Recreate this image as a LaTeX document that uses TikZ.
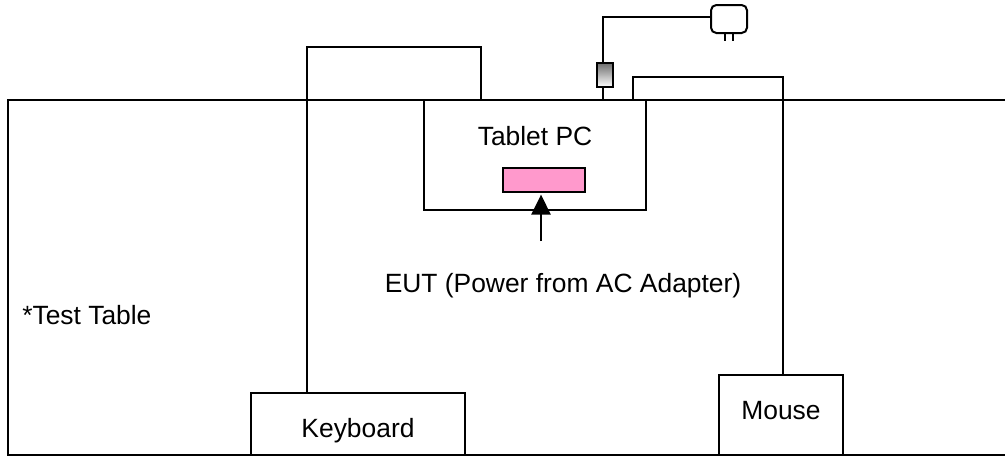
\documentclass[tikz,border=0pt]{standalone}
\usepackage{fontspec}
\setmainfont{Liberation Sans}
\usepackage{xcolor}
\usetikzlibrary{positioning, calc, arrows.meta}
\definecolor{eutpink}{RGB}{255, 153, 204}
\definecolor{plugdark}{RGB}{110, 110, 110}
\tikzset{
    boxnode/.style={
        draw, line width=1.5pt, fill=white, inner sep=0pt, outer sep=0pt
    },
    labelnode/.style={
        inner sep=0pt, anchor=base, font=\fontsize{19.8}{24}\selectfont
    },
    wire/.style={
        line width=1.5pt
    }
}
\begin{document}
\begin{tikzpicture}[
        x=0.75pt, y=-0.75pt,
        % Style for the arrow to the EUT
        eutarrow/.style={
            -{Triangle[length=15pt, width=14.5pt]}, line width=1.5pt, shorten >=2pt
        }
    ]
        \useasboundingbox (0,0) rectangle (1005,457);

        % --- 1. TABLE ---
        \coordinate (tabletl) at (8,100);
        \coordinate (tablebl) at (8,455);
        \coordinate (tabletr) at (1005,100);
        \coordinate (tablebr) at (1005,455);
        \draw[wire] (tabletr) -- (tabletl) -- (tablebl) -- (tablebr);
        \node[labelnode, anchor=base west] (tablelabel) at (22,324) {*Test Table};

        % --- 2. BOXES ---
        \node[boxnode, minimum width=166.5pt, minimum height=82.5pt] (tablet) at (535,155) {};
        \node[labelnode] (tabletlabel) at (535,145) {Tablet PC};
        \node[boxnode, fill=eutpink, minimum width=61.5pt, minimum height=18pt] (eut) at (544,180) {};
        \node[boxnode, minimum width=160.5pt, minimum height=46.5pt] (keyboard) at (358,424) {};
        \node[labelnode] (keyboardlabel) at (358,437) {Keyboard};
        \node[boxnode, minimum width=93pt, minimum height=60pt] (mouse) at (781,415) {};
        \node[labelnode] (mouselabel) at (781,419) {Mouse};
        \node[labelnode] (eutlabel) at (563,292) {EUT (Power from AC Adapter)};

        % --- 3. ADAPTER ---
        \node[boxnode, top color=plugdark, bottom color=white, minimum width=12pt, minimum height=18pt] (ferrite) at (605,75) {};
        \node[boxnode, rounded corners=4pt, minimum width=27pt, minimum height=21pt] (plug) at (729,19) {};
        \coordinate (prongl) at (725,41);
        \coordinate (prongr) at (733,41);
        \draw[wire] (prongl |- plug.south) -- (prongl);
        \draw[wire] (prongr |- plug.south) -- (prongr);

        % --- 4. WIRES ---
        \coordinate (kbleft) at (307,47);
        \coordinate (kbright) at (481,47);
        \coordinate (mouseright) at (783,77);
        \coordinate (mouseleft) at (633,77);
        \coordinate (adapterbend) at (603,17);
        \draw[wire] (kbleft |- keyboard.north) -- (kbleft) -- (kbright) -- (kbright |- tablet.north);
        \draw[wire] (mouseright |- mouse.north) -- (mouseright) -- (mouseleft) -- (mouseleft |- tablet.north);
        \draw[wire] (adapterbend |- tablet.north) -- (adapterbend |- ferrite.south);
        \draw[wire] (adapterbend |- ferrite.north) -- (adapterbend) -- (plug.west |- adapterbend);

        % --- 5. ARROW ---
        \coordinate (arrowstart) at (541,241);
        \draw[eutarrow] (arrowstart) -- (arrowstart |- eut.south);
    \end{tikzpicture}
\end{document}
